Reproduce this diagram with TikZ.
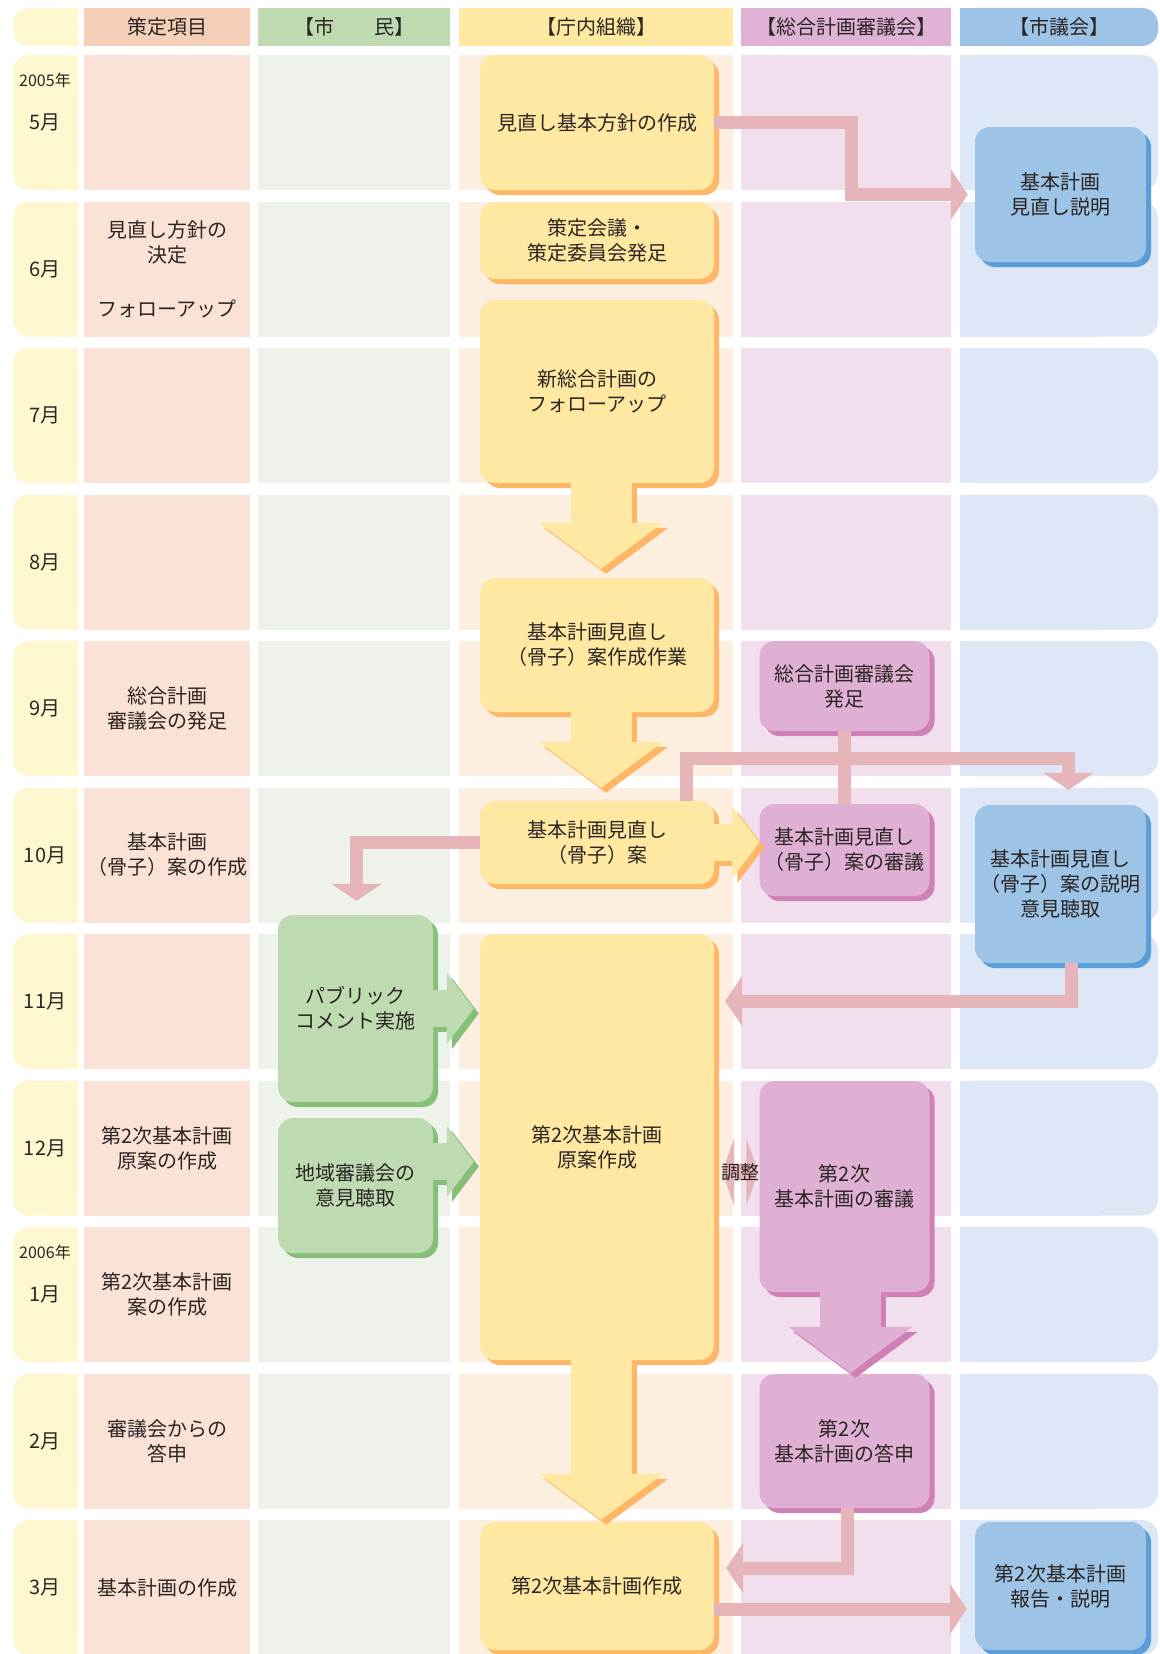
\documentclass[tikz,border=0pt]{standalone}
\usepackage{fontspec}
\setmainfont{Noto Sans CJK JP}
\usetikzlibrary{arrows.meta, shadows}
\definecolor{mcol}{HTML}{FEF7D0}
\definecolor{c1head}{HTML}{F5CFB8}
\definecolor{c1row}{HTML}{FBE2D6}
\definecolor{c2head}{HTML}{BEDAB1}
\definecolor{c2row}{HTML}{EDF3EA}
\definecolor{c3head}{HTML}{FFE8A1}
\definecolor{c3row}{HTML}{FDEFE0}
\definecolor{c4head}{HTML}{DFB1D4}
\definecolor{c4row}{HTML}{F1DFEE}
\definecolor{c5head}{HTML}{9DC3E6}
\definecolor{c5row}{HTML}{DEE7F5}
\definecolor{yfill}{HTML}{FFE8A1}
\definecolor{ydark}{HTML}{FDB766}
\definecolor{pfill}{HTML}{E0B0D4}
\definecolor{pdark}{HTML}{CF80B5}
\definecolor{bfill}{HTML}{9DC3E6}
\definecolor{bdark}{HTML}{5B9DD8}
\definecolor{gfill}{HTML}{BEDAB1}
\definecolor{gdark}{HTML}{86BF77}
\definecolor{pinkline}{HTML}{E6B5BA}
\definecolor{txt}{HTML}{2B2523}
\newcommand\bodyfont{\fontsize{20}{25}\selectfont}
\newcommand\yearfont{\fontsize{16}{18}\selectfont}
\tikzset{
  box/.style={
    rectangle,
    rounded corners=15pt,
    align=center,
    inner sep=0pt,
    minimum width=234pt,
    font=\bodyfont,
    text=txt
  },
  yellowbox/.style={box, fill=yfill,
    general shadow={fill=ydark, shadow xshift=5pt, shadow yshift=-5pt}},
  pinkbox/.style={box, minimum width=170pt, fill=pfill,
    general shadow={fill=pdark, shadow xshift=5pt, shadow yshift=-5pt}},
  bluebox/.style={box, minimum width=171pt, fill=bfill,
    general shadow={fill=bdark, shadow xshift=5pt, shadow yshift=-5pt}},
  greenbox/.style={box, minimum width=155pt, fill=gfill,
    general shadow={fill=gdark, shadow xshift=5pt, shadow yshift=-5pt}},
  txtnode/.style={font=\bodyfont, text=txt, align=center, inner sep=0pt},
  conn/.style={draw=pinkline, line width=13pt},
  connarrow/.style={conn, -{Triangle[width=50pt,length=17pt]}},
  dblarrow/.style={draw=pinkline, line width=16pt,
    {Triangle[width=68pt,length=12pt]}-{Triangle[width=68pt,length=12pt]}},
  fatdown/.style={line width=61pt, -{Triangle[width=122pt,length=46pt]}},
  fatright/.style={line width=37pt, -{Triangle[width=70pt,length=27pt]}},
  shadowcopy/.style={transform canvas={shift={(5pt,-5pt)}}}
}
\begin{document}
\begin{tikzpicture}[x=1pt,y=-1pt]
\useasboundingbox[fill=white] (0,0) rectangle (1159,1654);

\fill[mcol, rounded corners=16pt] (13,8) rectangle (78,46);
\fill[mcol] (50,8) rectangle (78,46);
\fill[c1head] (84,8) rectangle (250,46);
\fill[c2head] (258,8) rectangle (450,46);
\fill[c3head] (459,8) rectangle (733,46);
\fill[c4head] (741,8) rectangle (951,46);
\fill[c5head, rounded corners=16pt] (960,8) rectangle (1158,46);
\fill[c5head] (960,8) rectangle (1100,46);
\foreach \yt in {55,201.5,348,494.5,641,787.5,934,1080.5,1227,1373.5,1520}{
  \fill[mcol, rounded corners=16pt] (13,\yt) rectangle (78,\yt+135);
  \fill[mcol] (50,\yt) rectangle (78,\yt+135);
  \fill[c1row] (84,\yt) rectangle (250,\yt+135);
  \fill[c2row] (258,\yt) rectangle (450,\yt+135);
  \fill[c3row] (459,\yt) rectangle (733,\yt+135);
  \fill[c4row] (741,\yt) rectangle (951,\yt+135);
  \fill[c5row, rounded corners=16pt] (960,\yt) rectangle (1158,\yt+135);
  \fill[c5row] (960,\yt) rectangle (1100,\yt+135);
}

\node[txtnode] (h1) at (167,27) {策定項目};
\node[txtnode] (h2) at (354,27) {【市　　民】};
\node[txtnode] (h3) at (596,27) {【庁内組織】};
\node[txtnode] (h4) at (846,27) {【総合計画審議会】};
\node[txtnode] (h5) at (1059,27) {【市議会】};

\foreach \m [count=\i from 0] in {5,6,7,8,9,10,11,12,1,2,3}
  \node[txtnode] (m\m) at (45,122.5+146.5*\i) {\m 月};
\node[txtnode, font=\yearfont] (y05) at (45,80) {2005年};
\node[txtnode, font=\yearfont] (y06) at (45,1252) {2006年};

\node[txtnode] (k6) at (167,269) {見直し方針の\\決定\\[29pt]フォローアップ};
\node[txtnode] (k9) at (167,708.5) {総合計画\\審議会の発足};
\node[txtnode] (k10) at (167,855) {基本計画\\（骨子）案の作成};
\node[txtnode] (k12) at (167,1148) {第2次基本計画\\原案の作成};
\node[txtnode] (k1) at (167,1294.5) {第2次基本計画\\案の作成};
\node[txtnode] (k2) at (167,1441) {審議会からの\\答申};
\node[txtnode] (k3) at (167,1587.5) {基本計画の作成};

\node[yellowbox, minimum height=135pt] (hoshin) at (597,122.5) {見直し基本方針の作成};
\node[yellowbox, minimum height=77pt] (sakutei) at (597,240.5) {策定会議・\\策定委員会発足};
\node[yellowbox, minimum height=183pt] (follow) at (597,391.5) {新総合計画の\\フォローアップ};
\node[yellowbox, minimum height=134pt] (kossisagyo) at (597,645) {基本計画見直し\\（骨子）案作成作業};
\node[yellowbox, minimum height=83pt] (kossian) at (597,842.5) {基本計画見直し\\（骨子）案};
\node[yellowbox, minimum height=426pt] (gen) at (597,1147) {第2次基本計画\\原案作成};
\node[yellowbox, minimum height=128pt] (keikaku) at (597,1586) {第2次基本計画作成};

\node[pinkbox, minimum height=90pt] (hossoku) at (844.5,686) {総合計画審議会\\発足};
\node[pinkbox, minimum height=92pt] (shingi1) at (844.5,850) {基本計画見直し\\（骨子）案の審議};
\node[pinkbox, minimum height=211pt] (shingi2) at (844.5,1186.5) {第2次\\基本計画の審議};
\node[pinkbox, minimum height=134pt] (toshin) at (844.5,1441) {第2次\\基本計画の答申};

\node[bluebox, minimum height=135pt] (setsu1) at (1060.5,194.5) {基本計画\\見直し説明};
\node[bluebox, minimum height=158pt] (setsu2) at (1060.5,884) {基本計画見直し\\（骨子）案の説明\\意見聴取};
\node[bluebox, minimum height=128pt] (hokoku) at (1060.5,1586) {第2次基本計画\\報告・説明};

\node[greenbox, minimum height=187pt] (pub) at (355.5,1008.5) {パブリック\\コメント実施};
\node[greenbox, minimum height=135pt] (chiiki) at (355.5,1185.5) {地域審議会の\\意見聴取};

\draw[connarrow] (hoshin.east) -- ++(137,0) |- ([xshift=-7pt]setsu1.west);
\draw[conn] (hossoku.south) -- (shingi1.north);
\draw[connarrow] ([xshift=89pt]kossian.north) |- ([yshift=-27pt]hossoku.south)
  -| ([xshift=8pt,yshift=15pt]setsu2.north);
\draw[connarrow] (kossian.west) -| ([xshift=1pt,yshift=14pt]pub.north);
\draw[connarrow] ([xshift=11pt]setsu2.south) |- ([xshift=11pt,yshift=146pt]gen.east);
\draw[dblarrow] ([xshift=8pt,yshift=-25pt]gen.east) -- ([xshift=-1pt,yshift=-25pt]gen.east -| shingi2.west)
  node[midway, txtnode, font=\fontsize{19}{21}\selectfont] (chosei) {調整};
\draw[connarrow] ([xshift=3pt]toshin.south) |- ([xshift=12pt,yshift=18pt]keikaku.east);
\draw[connarrow] ([yshift=-23pt]keikaku.east) -- ([xshift=-8pt,yshift=-23pt]keikaku.east -| hokoku.west);

\foreach \a/\b/\g in {follow/kossisagyo/9, kossisagyo/kossian/13, gen/keikaku/2}{
  \draw[fatdown, draw=ydark, shadowcopy] ([xshift=4pt]\a.south) -- ([xshift=4pt,yshift=\g pt]\b.north);
  \draw[fatdown, draw=yfill] ([xshift=4pt]\a.south) -- ([xshift=4pt,yshift=\g pt]\b.north);
}
\draw[fatdown, draw=pdark, shadowcopy] ([xshift=6pt]shingi2.south) -- ([xshift=6pt,yshift=1pt]toshin.north);
\draw[fatdown, draw=pfill] ([xshift=6pt]shingi2.south) -- ([xshift=6pt,yshift=1pt]toshin.north);

\draw[fatright, draw=ydark, shadowcopy] (kossian.east) -- (kossian.east -| shingi1.west);
\draw[fatright, draw=yfill] (kossian.east) -- (kossian.east -| shingi1.west);
\draw[fatright, draw=gdark, shadowcopy] (pub.east) -- ([xshift=-6pt]pub.east -| gen.west);
\draw[fatright, draw=gfill] (pub.east) -- ([xshift=-6pt]pub.east -| gen.west);
\draw[fatright, draw=gdark, shadowcopy] ([yshift=24pt]chiiki.east) -- ([xshift=-6pt,yshift=24pt]chiiki.east -| gen.west);
\draw[fatright, draw=gfill] ([yshift=24pt]chiiki.east) -- ([xshift=-6pt,yshift=24pt]chiiki.east -| gen.west);
\end{tikzpicture}
\end{document}
